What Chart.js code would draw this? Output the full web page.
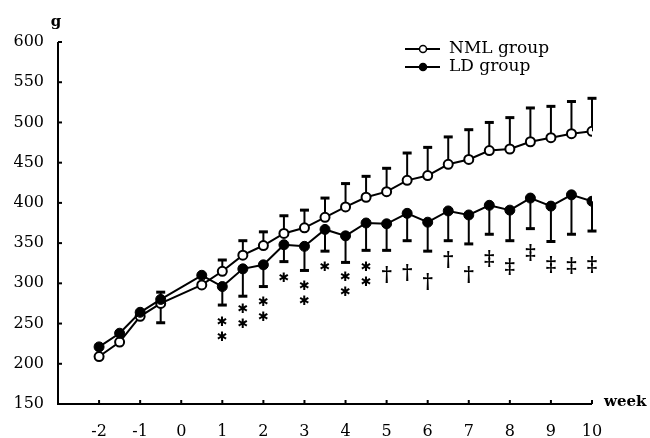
<!DOCTYPE html>
<html>
<head>
<meta charset="utf-8">
<script src="https://cdn.jsdelivr.net/npm/chart.js@4/dist/chart.umd.min.js"></script>
<style>
  html, body { margin: 0; padding: 0; background: #fff; }
  #wrap { width: 650px; height: 438px; }
</style>
</head>
<body>
<div id="wrap"><canvas id="chart"></canvas></div>
<script>
// data
const weeks = [-2, -1.5, -1, -0.5, 0.5, 1, 1.5, 2, 2.5, 3, 3.5, 4, 4.5, 5, 5.5, 6, 6.5, 7, 7.5, 8, 8.5, 9, 9.5, 10];
const nml = [209, 227, 259, 275, 298, 315, 335, 347, 362, 369, 382, 395, 407, 414, 428, 434, 448, 454, 465, 467, 476, 481, 486, 489];
const ld = [221, 238, 264, 280, 310, 296, 318, 323, 348, 346, 367, 359, 375, 374, 387, 376, 390, 385, 397, 391, 406, 396, 410, 402];
// error bar end values (null = no bar)
const nmlBarEnd = [null, null, null, 251, null, 329, 353, 364, 384, 391, 406, 424, 433, 443, 462, 469, 482, 491, 500, 506, 518, 520, 526, 530];
const ldBarEnd = [null, null, null, 289, null, 273, 284, 296, 327, 316, 340, 326, 341, 341, 353, 340, 353, 349, 361, 353, 368, 352, 361, 365];
// significance marks
const sigWeeks = [1, 1.5, 2, 2.5, 3, 3.5, 4, 4.5, 5, 5.5, 6, 6.5, 7, 7.5, 8, 8.5, 9, 9.5, 10];
const sigMarks = ['**', '**', '**', '*', '**', '*', '**', '**', '†', '†', '†', '†', '†', '‡', '‡', '‡', '‡', '‡', '‡'];
const sigY = [251, 267, 276, 306, 296, 319, 307, 320, 310, 313, 302, 329, 310, 330, 320, 338, 323, 322, 323];
const xTicks = [-2, -1, 0, 1, 2, 3, 4, 5, 6, 7, 8, 9, 10];
const yTicks = [150, 200, 250, 300, 350, 400, 450, 500, 550, 600];
const seriesNames = ['NML group', 'LD group'];

const tickFont = { family: 'DejaVu Serif', size: 16 };

// axes, error bars, marks and legend
const extras = {
    id: 'extras',
    beforeDatasetsDraw(chart) {
        const ctx = chart.ctx;
        const x = chart.scales.x, y = chart.scales.y;
        const a = chart.chartArea;
        ctx.save();
        ctx.strokeStyle = '#000';
        ctx.lineWidth = 2;
        // axis lines
        ctx.beginPath();
        ctx.moveTo(a.left, a.top);
        ctx.lineTo(a.left, a.bottom);
        ctx.lineTo(a.right, a.bottom);
        ctx.stroke();
        // inner ticks
        yTicks.forEach(function (v) {
            var py = y.getPixelForValue(v);
            ctx.beginPath();
            ctx.moveTo(a.left, py);
            ctx.lineTo(a.left + 4, py);
            ctx.stroke();
        });
        xTicks.forEach(function (v) {
            var px = x.getPixelForValue(v);
            ctx.beginPath();
            ctx.moveTo(px, a.bottom);
            ctx.lineTo(px, a.bottom - 4);
            ctx.stroke();
        });
        // error bars
        function bars(vals, ends) {
            weeks.forEach(function (w, i) {
                if (ends[i] === null) return;
                var px = x.getPixelForValue(w);
                var p0 = y.getPixelForValue(vals[i]);
                var p1 = y.getPixelForValue(ends[i]);
                ctx.lineWidth = 2;
                ctx.beginPath();
                ctx.moveTo(px, p0);
                ctx.lineTo(px, p1);
                ctx.stroke();
                ctx.lineWidth = 3;
                ctx.beginPath();
                ctx.moveTo(px - 4.5, p1);
                ctx.lineTo(px + 4.5, p1);
                ctx.stroke();
            });
        }
        bars(nml, nmlBarEnd);
        bars(ld, ldBarEnd);
        ctx.restore();
    },
    afterDatasetsDraw(chart) {
        const ctx = chart.ctx;
        const x = chart.scales.x, y = chart.scales.y;
        const a = chart.chartArea;
        ctx.save();
        ctx.fillStyle = '#000';
        ctx.textAlign = 'center';
        ctx.textBaseline = 'middle';
        // significance marks
        sigWeeks.forEach(function (w, i) {
            var px = x.getPixelForValue(w);
            var py = y.getPixelForValue(sigY[i]);
            var m = sigMarks[i];
            if (m[0] === '*') {
                ctx.font = 'bold 13px "DejaVu Sans"';
                for (var k = 0; k < m.length; k++) {
                    ctx.fillText('✱', px, py + k * 15);
                }
            } else {
                ctx.font = 'bold 20px "DejaVu Serif"';
                ctx.fillText(m, px, py + 1);
            }
        });
        // axis titles
        ctx.font = 'bold 15px "DejaVu Serif"';
        ctx.textAlign = 'center';
        ctx.fillText('g', a.left - 2, 22);
        ctx.textAlign = 'left';
        ctx.fillText('week', a.right + 12, a.bottom - 2);
        // legend
        var rows = [49, 67];
        rows.forEach(function (ly, i) {
            ctx.lineWidth = 2;
            ctx.strokeStyle = '#000';
            ctx.beginPath();
            ctx.moveTo(405, ly);
            ctx.lineTo(440, ly);
            ctx.stroke();
            ctx.beginPath();
            ctx.arc(423, ly, 3.5, 0, Math.PI * 2);
            ctx.fillStyle = i === 0 ? '#fff' : '#000';
            ctx.fill();
            ctx.lineWidth = 1.5;
            ctx.stroke();
            ctx.fillStyle = '#000';
            ctx.font = '17px "DejaVu Serif"';
            ctx.textAlign = 'left';
            ctx.fillText(seriesNames[i], 449, ly);
        });
        ctx.restore();
    }
};

const chrt = document.getElementById('chart');
const ChartData = new Chart(chrt, {
    type: 'scatter',
    data: {
        datasets: [
            {
                label: seriesNames[1],
                data: weeks.map(function (w, i) { return { x: w, y: ld[i] }; }),
                showLine: true,
                borderColor: '#000',
                borderWidth: 2,
                pointRadius: 5,
                pointBackgroundColor: '#000',
                pointBorderColor: '#000',
                pointBorderWidth: 1
            },
            {
                label: seriesNames[0],
                data: weeks.map(function (w, i) { return { x: w, y: nml[i] }; }),
                showLine: true,
                borderColor: '#000',
                borderWidth: 2,
                pointRadius: 4.5,
                pointBackgroundColor: '#fff',
                pointBorderColor: '#000',
                pointBorderWidth: 2
            }
        ]
    },
    options: {
        responsive: true,
        maintainAspectRatio: false,
        animation: false,
        layout: { padding: { top: 42, right: 58, left: 0, bottom: 0 } },
        plugins: { legend: { display: false }, tooltip: { enabled: false } },
        scales: {
            x: {
                type: 'linear',
                min: -3,
                max: 10,
                afterBuildTicks: function (s) { s.ticks = xTicks.map(function (v) { return { value: v }; }); },
                afterFit: function (s) { s.height = 34; },
                grid: { display: false, drawTicks: false },
                border: { display: false },
                ticks: { font: tickFont, color: '#000', padding: 18, maxRotation: 0, autoSkip: false }
            },
            y: {
                min: 150,
                max: 600,
                afterBuildTicks: function (s) { s.ticks = yTicks.map(function (v) { return { value: v }; }); },
                afterFit: function (s) { s.width = 58; },
                grid: { display: false, drawTicks: false },
                border: { display: false },
                ticks: { font: tickFont, color: '#000', padding: 14 }
            }
        }
    },
    plugins: [extras]
});
</script>
</body>
</html>
